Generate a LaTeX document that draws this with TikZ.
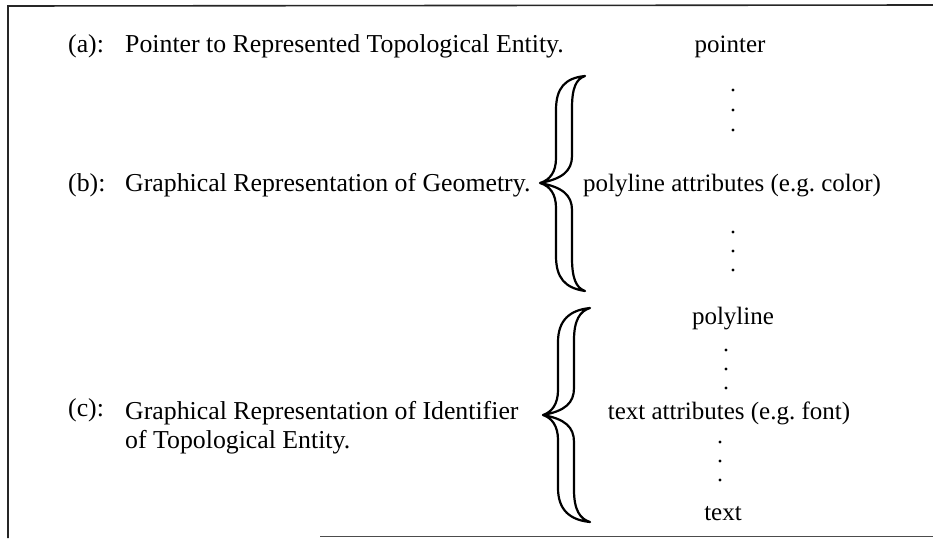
\documentclass[tikz,border=0pt]{standalone}
\usepackage{fontspec}
\setmainfont{Liberation Serif}
\frenchspacing
\begin{document}
\begin{tikzpicture}[x=1pt,y=-1pt,
  ltxt/.style={inner sep=0pt, font=\fontsize{25.8}{29}\selectfont},
  txt/.style={inner sep=0pt, font=\fontsize{25}{29}\selectfont},
  dotm/.style={circle, fill=black, inner sep=0pt, minimum size=3.2pt},
  bracestyle/.style={draw=black, line width=2.2pt, fill=white, line join=round},
  frame/.style={draw=black!85, line width=1.6pt}]
\useasboundingbox (0,0) rectangle (933,538);
% frame
\coordinate (ftl) at (8,6);
\coordinate (ftr) at (933,5);
\coordinate (fbl) at (8,538);
\coordinate (fbs) at (320,536.5);
\coordinate (fbr) at (933,536.5);
\draw[frame] (fbl) -- (ftl) -- (ftr);
\draw[draw=black!70, line width=1.4pt] (fbs) -- (fbr);
% left labels
\node[ltxt, anchor=base west] (la) at (68,52) {(a):};
\node[ltxt, anchor=base west] (ta) at (125,52) {Pointer to Represented Topological Entity.};
\node[ltxt, anchor=base west] (lb) at (68,191) {(b):};
\node[ltxt, anchor=base west] (tb) at (125,191) {Graphical Representation of Geometry.};
\node[ltxt, anchor=base west] (lc) at (68,416) {(c):};
\node[ltxt, anchor=base west] (tc1) at (125,419) {Graphical Representation of Identifier};
\node[ltxt, anchor=base west] (tc2) at (125,448) {of Topological Entity.};
% right column
\node[txt, anchor=base] (pointer) at (730,52) {pointer};
\node[dotm] (d1) at (733,90) {};
\node[dotm] (d2) at (733,110) {};
\node[dotm] (d3) at (733,130) {};
\node[txt, anchor=base] (pattr) at (732,191) {polyline attributes (e.g. color)};
\node[dotm] (d4) at (733,232) {};
\node[dotm] (d5) at (733,251) {};
\node[dotm] (d6) at (733,270) {};
\node[txt, anchor=base] (poly) at (733,324) {polyline};
\node[dotm] (d7) at (726,350) {};
\node[dotm] (d8) at (726,369) {};
\node[dotm] (d9) at (726,388) {};
\node[txt, anchor=base] (tattr) at (729,419) {text attributes (e.g. font)};
\node[dotm] (d10) at (720,442) {};
\node[dotm] (d11) at (720,461) {};
\node[dotm] (d12) at (720,480) {};
\node[txt, anchor=base] (text) at (723,520) {text};
% brace 1
\path[bracestyle] (585,76) .. controls (565,78) and (556,88) .. (556,110) -- (556,158)
  .. controls (556,172) and (550,180) .. (540,183)
  .. controls (550,186) and (556,194) .. (556,208) -- (556,256)
  .. controls (556,278) and (565,288) .. (585,291)
  .. controls (576,288) and (572,278) .. (572,258) -- (572,210)
  .. controls (572,195) and (562,187) .. (540,183)
  .. controls (562,179) and (572,171) .. (572,156) -- (572,108)
  .. controls (572,88) and (576,79) .. (585,76) -- cycle;
% brace 2
\path[bracestyle] (590,308) .. controls (570,310) and (558,320) .. (558,342) -- (558,390)
  .. controls (558,404) and (552,412) .. (543,415)
  .. controls (552,418) and (558,426) .. (558,440) -- (558,488)
  .. controls (558,510) and (570,520) .. (590,522)
  .. controls (580,519) and (574,510) .. (574,490) -- (574,442)
  .. controls (574,427) and (565,419) .. (543,415)
  .. controls (565,411) and (574,403) .. (574,388) -- (574,340)
  .. controls (574,320) and (580,311) .. (590,308) -- cycle;
\end{tikzpicture}
\end{document}
